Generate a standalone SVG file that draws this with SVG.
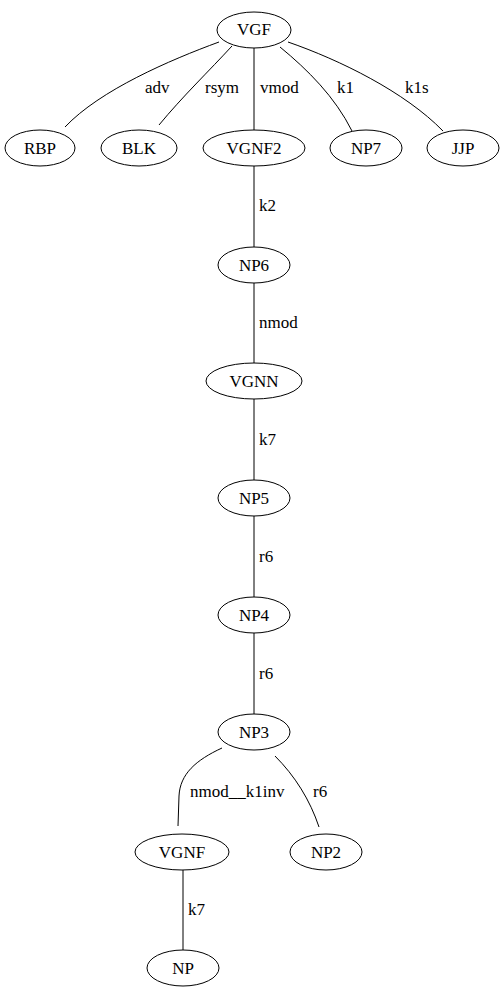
<svg xmlns="http://www.w3.org/2000/svg" width="504" height="997" viewBox="0 0 504 997">
<style>
  .node ellipse { fill: #fff; stroke: #000; stroke-width: 1; }
  .node text { font-family: "Liberation Serif", "Times New Roman", serif; font-size: 17px; text-anchor: middle; fill: #000; }
  .edge path { fill: none; stroke: #000; stroke-width: 1; }
  .edge text { font-family: "Liberation Serif", "Times New Roman", serif; font-size: 17px; text-anchor: start; fill: #000; }
</style>
<rect width="504" height="997" fill="#fff"/>
<g id="edges">
  <g class="edge"><path d="M219,42 C170,60 100,90 65,127"/><text x="145" y="93">adv</text></g>
  <g class="edge"><path d="M232,46 C210,70 182,97 159,125"/><text x="205" y="93">rsym</text></g>
  <g class="edge"><path d="M254,48 L254,130"/><text x="260" y="93">vmod</text></g>
  <g class="edge"><path d="M280,47 C308,70 335,97 352,131"/><text x="337" y="93">k1</text></g>
  <g class="edge"><path d="M288,42 C340,60 405,92 443,131"/><text x="405" y="93">k1s</text></g>
  <g class="edge"><path d="M254,166 L254,247"/><text x="259" y="211">k2</text></g>
  <g class="edge"><path d="M254,283 L254,363"/><text x="259" y="328">nmod</text></g>
  <g class="edge"><path d="M254,399 L254,480"/><text x="259" y="445">k7</text></g>
  <g class="edge"><path d="M254,516 L254,597"/><text x="259" y="562">r6</text></g>
  <g class="edge"><path d="M254,633 L254,714"/><text x="259" y="679">r6</text></g>
  <g class="edge"><path d="M222,748 C196,760 180,774 179,796 L178,826"/><text x="190" y="797">nmod__k1inv</text></g>
  <g class="edge"><path d="M275,756 C295,776 310,800 319,827"/><text x="313" y="797">r6</text></g>
  <g class="edge"><path d="M183,870 L183,950"/><text x="188" y="915">k7</text></g>
</g>
<g id="VGF" class="node"><ellipse cx="254" cy="30" rx="37" ry="18"/><text x="254" y="35">VGF</text></g>
<g id="RBP" class="node"><ellipse cx="40" cy="148" rx="35" ry="18"/><text x="40" y="154">RBP</text></g>
<g id="BLK" class="node"><ellipse cx="139" cy="148" rx="38" ry="18"/><text x="139" y="154">BLK</text></g>
<g id="VGNF2" class="node"><ellipse cx="254" cy="148" rx="51" ry="18"/><text x="254" y="154">VGNF2</text></g>
<g id="NP7" class="node"><ellipse cx="366" cy="148" rx="36" ry="18"/><text x="366" y="154">NP7</text></g>
<g id="JJP" class="node"><ellipse cx="463" cy="148" rx="36" ry="18"/><text x="463" y="154">JJP</text></g>
<g id="NP6" class="node"><ellipse cx="254" cy="265" rx="36" ry="18"/><text x="254" y="271">NP6</text></g>
<g id="VGNN" class="node"><ellipse cx="254" cy="381" rx="48" ry="18"/><text x="254" y="387">VGNN</text></g>
<g id="NP5" class="node"><ellipse cx="254" cy="498" rx="36" ry="18"/><text x="254" y="504">NP5</text></g>
<g id="NP4" class="node"><ellipse cx="254" cy="615" rx="36" ry="18"/><text x="254" y="621">NP4</text></g>
<g id="NP3" class="node"><ellipse cx="254" cy="732" rx="36" ry="18"/><text x="254" y="738">NP3</text></g>
<g id="VGNF" class="node"><ellipse cx="182" cy="852" rx="47" ry="18"/><text x="182" y="858">VGNF</text></g>
<g id="NP2" class="node"><ellipse cx="326" cy="852" rx="36" ry="18"/><text x="326" y="858">NP2</text></g>
<g id="NP" class="node"><ellipse cx="183" cy="968" rx="36" ry="18"/><text x="183" y="974">NP</text></g>
</svg>
